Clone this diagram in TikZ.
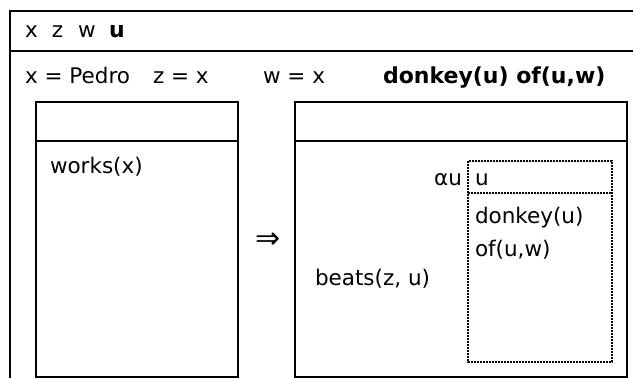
\documentclass[tikz,border=0pt]{standalone}
\usepackage{fontspec}
\setmainfont{DejaVu Sans}
\begin{document}
\begin{tikzpicture}[x=1pt,y=-1pt,
  every node/.style={inner sep=0pt,outer sep=0pt,anchor=base west,font=\fontsize{21.5}{25}\selectfont},
  frame/.style={line width=2pt,black},
  dotframe/.style={line width=1.8pt,black,dash pattern=on 1.6pt off 1.4pt},
  boldtxt/.style={font=\fontsize{22}{26}\selectfont\bfseries}]
\useasboundingbox (0,0) rectangle (633,378);
\clip (0,0) rectangle (633,378);
\fill[white] (0,0) rectangle (633,378);
% outer box (cut off at right and bottom)
\draw[frame] (10,400) -- (10,11) -- (660,11);
\draw[frame] (10,51) -- (660,51);
% left inner box
\draw[frame] (36,102) rectangle (238,377);
\draw[frame] (36,141) -- (238,141);
% right inner box
\draw[frame] (295,102) rectangle (627,377);
\draw[frame] (295,141) -- (627,141);
% dotted box
\draw[dotframe] (468,161) rectangle (612,362);
\draw[dotframe] (468,193) -- (612,193);
% header
\node (hx) at (25,37) {x};
\node (hz) at (52,37) {z};
\node (hw) at (78,37) {w};
\node[boldtxt] (hu) at (109,37) {u};
% conditions row
\node (c1) at (25,83) {x = Pedro};
\node (c2) at (153,83) {z = x};
\node (c3) at (263,83) {w = x};
\node[boldtxt] (c4) at (383,83) {donkey(u) of(u,w)};
% left box content
\node (works) at (50,173) {works(x)};
% implication
\node[anchor=center,font=\fontsize{30}{30}\selectfont] (impl) at (268,241) {⇒};
% right box content
\node (beats) at (315,285) {beats(z, u)};
\node[anchor=base east] (alpha) at (462,185) {αu};
\node (du) at (475,185) {u};
\node (donkey) at (475,223) {donkey(u)};
\node (of) at (475,256) {of(u,w)};
\end{tikzpicture}
\end{document}
